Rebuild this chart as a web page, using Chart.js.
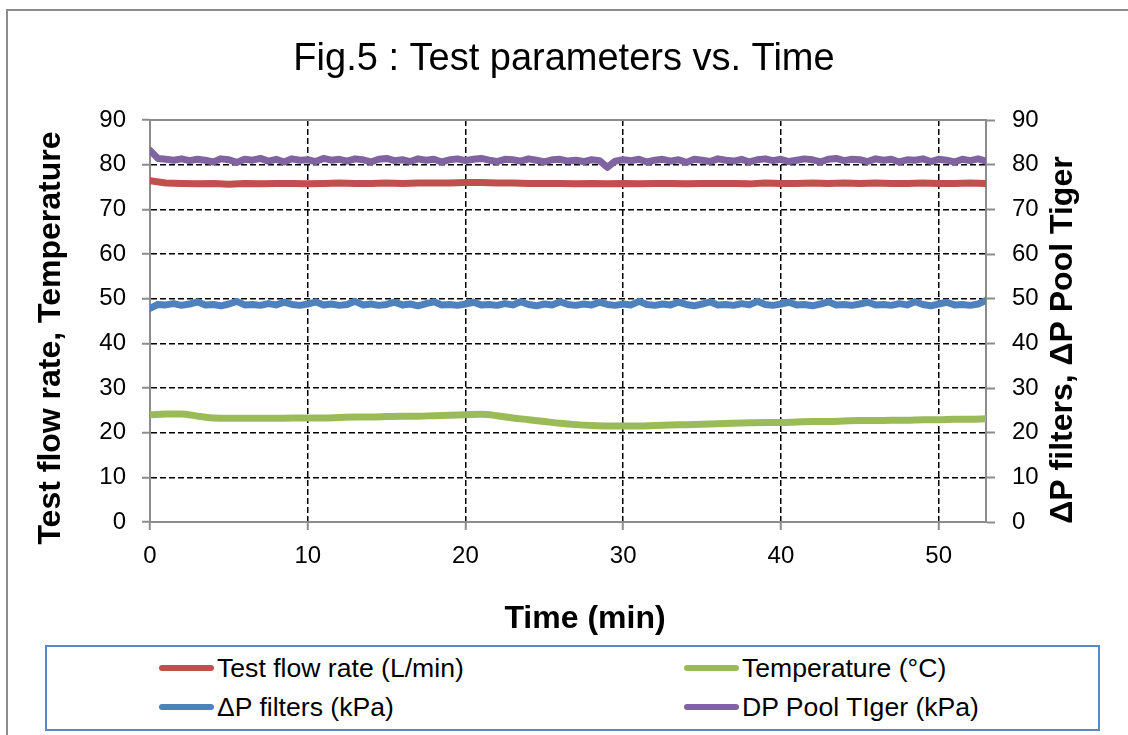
<!DOCTYPE html>
<html>
<head>
<meta charset="utf-8">
<script src="https://cdn.jsdelivr.net/npm/chart.js@4.4.1/dist/chart.umd.min.js"></script>
<style>
  html, body { margin: 0; padding: 0; background: #ffffff; }
  body { width: 1128px; height: 735px; position: relative; overflow: hidden; font-family: "Liberation Sans", Arial, sans-serif; }
  #frame { position: absolute; left: 6px; top: 9px; width: 1300px; height: 900px; border-left: 2px solid #8c8c8c; border-top: 2px solid #8c8c8c; }
  #chart { position: absolute; left: 0; top: 0; }
  #legend { position: absolute; left: 45px; top: 645px; width: 1051px; height: 82px; border: 2px solid #5b87c6; background: #fff; }
  .item { position: absolute; height: 30px; display: flex; align-items: center; font-size: 26.6px; color: #000; white-space: nowrap; }
  .swatch { width: 55px; height: 6px; border-radius: 3px; margin-right: 3px; }
</style>
</head>
<body>
<div id="frame"></div>
<canvas id="chart" width="1128" height="735"></canvas>
<div id="legend"></div>
<script>
// ---------- data ----------
const timeMin = [0,1,2,3,4,5,6,7,8,9,10,11,12,13,14,15,16,17,18,19,20,21,22,23,24,25,26,27,28,29,30,31,32,33,34,35,36,37,38,39,40,41,42,43,44,45,46,47,48,49,50,51,52,53];
const timeHalfMin = [0,0.5,1,1.5,2,2.5,3,3.5,4,4.5,5,5.5,6,6.5,7,7.5,8,8.5,9,9.5,10,10.5,11,11.5,12,12.5,13,13.5,14,14.5,15,15.5,16,16.5,17,17.5,18,18.5,19,19.5,20,20.5,21,21.5,22,22.5,23,23.5,24,24.5,25,25.5,26,26.5,27,27.5,28,28.5,29,29.5,30,30.5,31,31.5,32,32.5,33,33.5,34,34.5,35,35.5,36,36.5,37,37.5,38,38.5,39,39.5,40,40.5,41,41.5,42,42.5,43,43.5,44,44.5,45,45.5,46,46.5,47,47.5,48,48.5,49,49.5,50,50.5,51,51.5,52,52.5,53];

const flowRate = [76.4,75.9,75.8,75.7,75.8,75.6,75.8,75.7,75.8,75.8,75.7,75.8,75.9,75.8,75.8,75.9,75.8,75.9,75.9,75.9,76.0,76.0,75.9,75.9,75.8,75.8,75.8,75.7,75.8,75.7,75.8,75.7,75.8,75.8,75.7,75.8,75.8,75.8,75.7,75.9,75.8,75.8,75.9,75.8,75.9,75.8,75.9,75.8,75.8,75.9,75.8,75.8,75.9,75.8];

const temperature = [24.0,24.2,24.2,23.7,23.3,23.2,23.2,23.2,23.2,23.3,23.3,23.3,23.4,23.5,23.5,23.6,23.7,23.7,23.8,23.9,24.0,24.1,23.8,23.3,22.9,22.5,22.1,21.8,21.6,21.5,21.5,21.5,21.6,21.7,21.8,21.9,22.0,22.1,22.2,22.3,22.3,22.4,22.5,22.5,22.6,22.7,22.7,22.8,22.8,22.9,22.9,23.0,23.0,23.1];

const dpFilters = [
  47.8,48.7,48.6,48.9,48.5,48.8,49.3,48.6,48.7,48.4,
  48.8,49.4,48.6,48.7,48.5,48.9,48.6,49.2,48.7,48.5,
  48.8,49.3,48.6,48.8,48.5,48.7,49.4,48.6,48.8,48.5,
  48.7,49.2,48.6,48.8,48.4,48.9,49.3,48.6,48.7,48.5,
  48.8,49.2,48.6,48.7,48.5,48.9,48.6,49.3,48.7,48.4,
  48.8,48.6,49.3,48.7,48.5,48.8,48.6,49.2,48.7,48.5,
  48.8,48.6,49.4,48.7,48.5,48.8,48.6,49.2,48.7,48.4,
  48.8,49.3,48.6,48.7,48.5,48.9,48.6,49.4,48.7,48.5,
  48.8,49.2,48.6,48.7,48.4,48.8,49.3,48.6,48.7,48.5,
  48.8,49.2,48.6,48.7,48.5,48.9,48.6,49.3,48.7,48.4,
  48.8,49.2,48.6,48.7,48.5,48.8,49.6];

const dpPoolTiger = [
  83.2,81.4,81.2,81.0,81.3,80.9,81.2,81.0,80.6,81.3,
  81.1,80.5,81.2,81.0,81.4,80.8,81.2,80.6,81.3,81.0,
  81.1,80.7,81.4,81.0,81.2,80.8,81.3,81.1,80.6,81.2,
  81.4,80.9,81.1,80.7,81.3,81.0,81.2,80.6,81.1,81.3,
  80.9,81.2,81.4,81.0,80.7,81.2,81.1,80.8,81.3,81.0,
  80.6,81.1,81.2,80.8,81.0,80.7,81.1,80.9,79.4,80.8,
  81.1,80.9,81.2,80.6,81.0,81.2,80.8,81.1,80.5,81.2,
  81.0,80.7,81.3,81.0,80.8,81.2,80.6,81.1,81.3,80.9,
  81.2,80.7,81.0,81.3,81.1,80.6,81.2,81.4,80.9,81.2,
  81.1,80.7,81.3,81.0,81.2,80.6,81.1,81.0,81.3,80.7,
  81.2,81.0,80.6,81.2,80.9,81.3,80.8];

const seriesNames = ["Test flow rate (L/min)", "Temperature (\u00B0C)", "\u0394P filters (kPa)", "DP Pool TIger (kPa)"];
const seriesColors = ["#c0504d", "#9bbb59", "#4f81bd", "#8064a2"];
const chartTitle = "Fig.5 : Test parameters vs. Time";
const xAxisTitle = "Time (min)";
const yAxisTitle = "Test flow rate, Temperature";
const y2AxisTitle = "\u0394P filters, \u0394P Pool Tiger";
const axisMin = 0, axisMax = 90, axisStep = 10;
const timeMax = 53, timeStep = 10;

// ---------- chart ----------
const pts = (xs, ys) => xs.map((x, i) => ({ x: x, y: ys[i] }));
const FONT = "'Liberation Sans', Arial, sans-serif";
const GRID_OFF = (c) => (c.tick && (c.tick.value === axisMin || c.tick.value === axisMax)) ? 'rgba(0,0,0,0)' : '#000000';

const axisTitles = {
  id: 'axisTitles',
  afterDraw(chart) {
    const ctx = chart.ctx;
    ctx.save();
    ctx.fillStyle = '#000';
    ctx.font = "bold 32px " + FONT;
    ctx.textAlign = 'center';
    ctx.textBaseline = 'middle';
    ctx.fillText(xAxisTitle, 585, 619);
    ctx.save(); ctx.translate(51, 338); ctx.rotate(-Math.PI / 2); ctx.fillText(yAxisTitle, 0, 0); ctx.restore();
    ctx.save(); ctx.translate(1063, 340); ctx.rotate(-Math.PI / 2); ctx.fillText(y2AxisTitle, 0, 0); ctx.restore();
    ctx.restore();
  }
};
const plotFrame = {
  id: 'plotFrame',
  beforeDatasetsDraw(chart) {
    const a = chart.chartArea, ctx = chart.ctx;
    ctx.save();
    ctx.strokeStyle = '#8c8c8c';
    ctx.lineWidth = 2;
    ctx.beginPath();
    ctx.moveTo(a.left, a.top); ctx.lineTo(a.right, a.top);
    ctx.stroke();
    ctx.restore();
  }
};

const mk = (i, xs, ys, smooth) => ({
  label: seriesNames[i], data: pts(xs, ys), borderColor: seriesColors[i], backgroundColor: seriesColors[i],
  borderWidth: 7, pointRadius: 0, fill: false, tension: smooth ? 0.4 : 0,
  cubicInterpolationMode: smooth ? 'monotone' : 'default', borderCapStyle: 'round', borderJoinStyle: 'round'
});

new Chart(document.getElementById('chart'), {
  type: 'line',
  data: {
    datasets: [
      mk(0, timeMin, flowRate, false),
      mk(1, timeMin, temperature, true),
      mk(2, timeHalfMin, dpFilters, false),
      mk(3, timeHalfMin, dpPoolTiger, false)
    ]
  },
  options: {
    responsive: false,
    animation: false,
    devicePixelRatio: 1,
    layout: { padding: { left: 0, right: 0, top: 0, bottom: 100 } },
    plugins: {
      legend: { display: false },
      tooltip: { enabled: false },
      title: { display: true, text: chartTitle, color: '#000', font: { family: FONT, size: 38, weight: 'normal' }, padding: { top: 37, bottom: 37.4 } }
    },
    scales: {
      x: {
        type: 'linear', min: 0, max: timeMax,
        afterFit: (s) => { s.height = 113; },
        ticks: { stepSize: timeStep, includeBounds: false, color: '#000', font: { family: FONT, size: 24 }, padding: 12, maxRotation: 0, autoSkip: false },
        grid: { color: (c) => (c.tick && c.tick.value === 0) ? 'rgba(0,0,0,0)' : '#000000', lineWidth: 1.5, tickLength: 8, tickColor: '#8c8c8c', tickWidth: 2, tickBorderDash: [] },
        border: { display: true, color: '#8c8c8c', width: 2, dash: [6, 3] }
      },
      y: {
        position: 'left', min: axisMin, max: axisMax,
        afterFit: (s) => { s.width = 150; },
        ticks: { stepSize: axisStep, color: '#000', font: { family: FONT, size: 24 }, padding: 16 },
        grid: { color: GRID_OFF, lineWidth: 1.5, tickLength: 8, tickColor: '#8c8c8c', tickWidth: 2, tickBorderDash: [] },
        border: { display: true, color: '#8c8c8c', width: 2, dash: [6, 3] }
      },
      y2: {
        position: 'right', min: axisMin, max: axisMax,
        afterFit: (s) => { s.width = 142; },
        ticks: { stepSize: axisStep, color: '#000', font: { family: FONT, size: 24 }, padding: 17 },
        grid: { drawOnChartArea: false, tickLength: 9, color: '#8c8c8c', tickColor: '#8c8c8c', tickWidth: 2 },
        border: { display: true, color: '#8c8c8c', width: 2 }
      }
    }
  },
  plugins: [plotFrame, axisTitles]
});

// ---------- legend (2 x 2 boxed) ----------
const legend = document.getElementById('legend');
const legendSlots = [[112, 6], [637, 6], [112, 45], [637, 45]];
[0, 1, 2, 3].forEach((i) => {
  const el = document.createElement('div');
  el.className = 'item';
  el.style.left = legendSlots[i][0] + 'px';
  el.style.top = legendSlots[i][1] + 'px';
  const sw = document.createElement('span');
  sw.className = 'swatch';
  sw.style.background = seriesColors[i];
  const tx = document.createElement('span');
  tx.textContent = seriesNames[i];
  el.appendChild(sw); el.appendChild(tx);
  legend.appendChild(el);
});
</script>
</body>
</html>
